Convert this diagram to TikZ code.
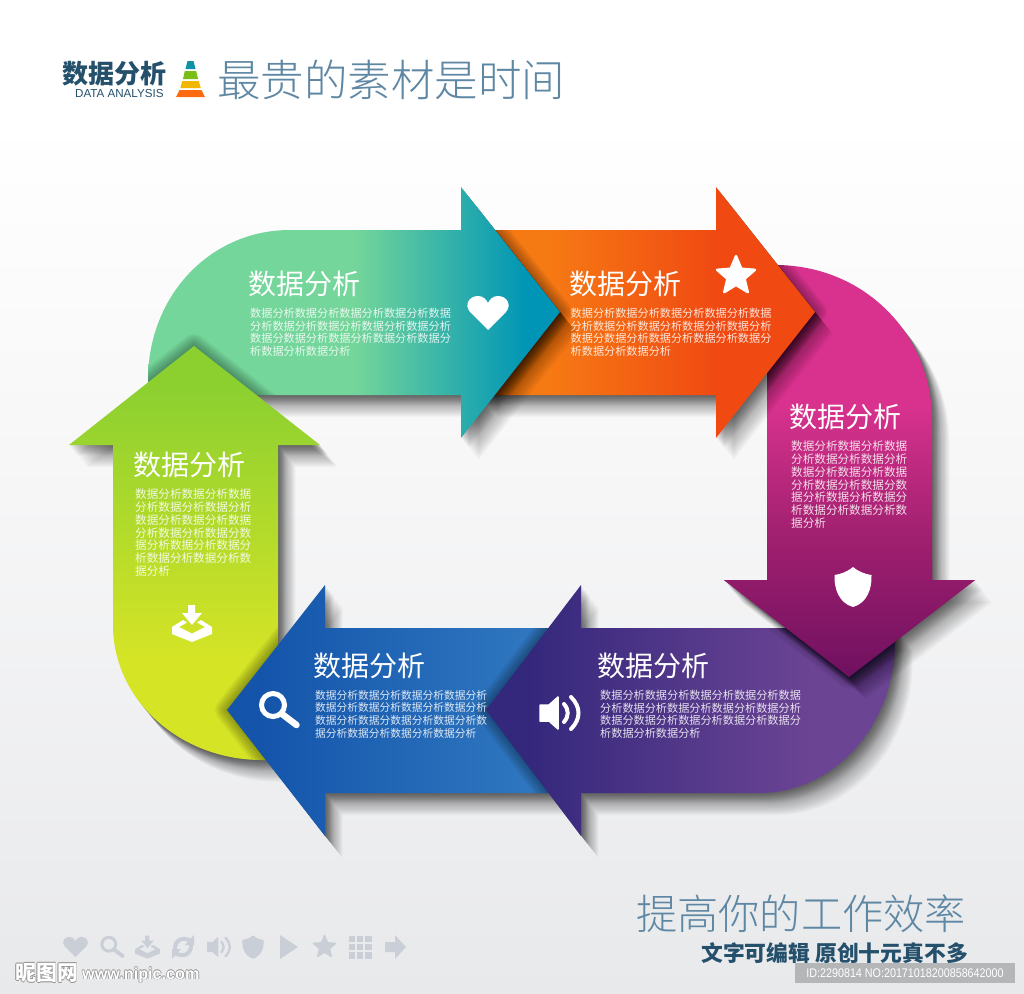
\documentclass[tikz,border=0pt]{standalone}
\usepackage{fontspec}
\usetikzlibrary{calc}
\setmainfont{Liberation Sans}
\newfontfamily\cjk{Noto Sans CJK SC}
\newfontfamily\cjkl{Noto Sans CJK SC Light}
\definecolor{navy}{HTML}{24506C}
\definecolor{titleblue}{HTML}{5E87A3}
\definecolor{icongrey}{HTML}{C9CED7}
\definecolor{tealA}{HTML}{74D69A}\definecolor{tealB}{HTML}{0095B6}
\definecolor{orA}{HTML}{F67A14}\definecolor{orB}{HTML}{F04A12}
\definecolor{magA}{HTML}{D8328E}\definecolor{magB}{HTML}{A0206F}\definecolor{magC}{HTML}{701060}
\definecolor{purA}{HTML}{34287C}\definecolor{purB}{HTML}{6C4494}
\definecolor{bluA}{HTML}{1455AB}\definecolor{bluB}{HTML}{3078C0}
\definecolor{limA}{HTML}{8CD030}\definecolor{limB}{HTML}{D6E426}
\definecolor{bgA}{HTML}{E8E9EB}\definecolor{bgB}{HTML}{F7F7F8}
\definecolor{pyrA}{HTML}{0E93A5}\definecolor{pyrB}{HTML}{78BE14}\definecolor{pyrC}{HTML}{F2B705}\definecolor{pyrD}{HTML}{FB6A0E}
\definecolor{idbox}{HTML}{B5B6B8}
\definecolor{wmgrey}{HTML}{8E8E8E}
\pgfdeclarehorizontalshading{tealS}{100bp}{color(0bp)=(tealA);color(50bp)=(tealA);color(71bp)=(tealB);color(100bp)=(tealB)}
\pgfdeclarehorizontalshading{orS}{100bp}{color(0bp)=(orA);color(35bp)=(orA);color(60bp)=(orB);color(100bp)=(orB)}
\pgfdeclarehorizontalshading{purS}{100bp}{color(0bp)=(purA);color(30bp)=(purA);color(65bp)=(purB);color(100bp)=(purB)}
\pgfdeclarehorizontalshading{bluS}{100bp}{color(0bp)=(bluA);color(30bp)=(bluA);color(72bp)=(bluB);color(100bp)=(bluB)}
\pgfdeclareverticalshading{magS}{100bp}{color(0bp)=(magC);color(25bp)=(magC);color(42bp)=(magB);color(58bp)=(magA);color(100bp)=(magA)}
\pgfdeclareverticalshading{limS}{100bp}{color(0bp)=(limB);color(37bp)=(limB);color(70bp)=(limA);color(100bp)=(limA)}
\pgfdeclareverticalshading{bgS}{100bp}{color(0bp)=(bgA);color(25bp)=(bgA);color(52bp)=(bgB);color(69bp)=(white);color(100bp)=(white)}
\def\pathTeal{(148,395) -- (148,380) .. controls (148,296) and (210,230) .. (290,230) -- (461,230) -- (461,187) -- (560,312) -- (461,438) -- (461,395) -- cycle}
\def\pathOrange{(480,230) -- (716,230) -- (716,187) -- (815,312) -- (716,438) -- (716,395) -- (480,395) -- cycle}
\def\pathMagenta{(767,265) -- (775,265) .. controls (865,265) and (932,335) .. (932,420) -- (932,580) -- (975,580) -- (849,677) -- (724,580) -- (767,580) -- cycle}
\def\pathPurple{(581,628) -- (895,628) -- (895,640) .. controls (895,730) and (830,793) .. (760,793) -- (581,793) -- (581,836) -- (486,710) -- (581,585) -- cycle}
\def\pathBlue{(325,628) -- (560,628) -- (560,793) -- (325,793) -- (325,836) -- (227,710) -- (325,585) -- cycle}
\def\pathLime{(194,346) -- (320,445) -- (278,445) -- (278,760) -- (262,760) .. controls (180,760) and (113,700) .. (113,625) -- (113,445) -- (69,445) -- cycle}
% directional shadow: the shape stacked down and to the right
\newcommand\softshadow[1]{%
  \foreach \k in {1,...,10}{\fill[black,opacity=.05,shift={(.8*\k,\k)}] #1;}%
  \foreach \k in {11,...,22}{\fill[black,opacity=.022,shift={(.8*\k,\k)}] #1;}}
% soft halo of a shape, only on the arrow underneath it
\newcommand\softhalo[2]{\begin{scope}\clip #2;
  \foreach \w in {3,6,...,24}{\draw[black,opacity=.045,line width=\w pt,line join=round] #1;}
\end{scope}}
% icons: x y scale colour
\newcommand\icHeart[4]{\fill[#4,shift={(#1,#2)},scale=#3] (0,17) -- (-18,-1) .. controls (-24,-8) and (-19,-17) .. (-10,-17) .. controls (-5,-17) and (-2,-14) .. (0,-10) .. controls (2,-14) and (5,-17) .. (10,-17) .. controls (19,-17) and (24,-8) .. (18,-1) -- cycle;}
\newcommand\icStar[4]{\filldraw[#4,line join=round,line width=#3*2.4pt,shift={(#1,#2)},scale=#3] (0,-20) -- (5.3,-7.3) -- (19,-6.2) -- (8.6,2.8) -- (11.8,16.2) -- (0,9) -- (-11.8,16.2) -- (-8.6,2.8) -- (-19,-6.2) -- (-5.3,-7.3) -- cycle;}
\newcommand\icShield[4]{\fill[#4,shift={(#1,#2)},scale=#3] (0,-20) .. controls (-6,-15) and (-12,-13) .. (-18.5,-12) .. controls (-19,2) and (-14,16) .. (0,20) .. controls (14,16) and (19,2) .. (18.5,-12) .. controls (12,-13) and (6,-15) .. (0,-20) -- cycle;}
\newcommand\icSpeaker[4]{\begin{scope}[shift={(#1,#2)},scale=#3]
  \filldraw[#4,line join=round,line width=#3*1.5pt] (-19,-8) -- (-10,-8) -- (-1,-16) -- (-1,16) -- (-10,8) -- (-19,8) -- cycle;
  \draw[#4,line width=#3*4pt,line cap=round] (5,-9) .. controls (10,-3) and (10,3) .. (5,9);
  \draw[#4,line width=#3*4pt,line cap=round] (12,-16) .. controls (22,-6) and (22,6) .. (12,16);
\end{scope}}
\newcommand\icSearch[4]{\begin{scope}[shift={(#1,#2)},scale=#3]
  \draw[#4,line width=#3*5pt] (-7,-3) circle (11.5);
  \draw[#4,line width=#3*6.5pt,line cap=round] (2,6) -- (16.5,17);
\end{scope}}
\newcommand\icTray[4]{\begin{scope}[shift={(#1,#2)},scale=#3]
  \fill[#4] (-4,-20) -- (3,-20) -- (3,-12) -- (10,-12) -- (0,0) -- (-10,-12) -- (-4,-12) -- cycle;
  \fill[#4] (-20,2) -- (-9,-5) -- (-5,-2.5) -- (-13,2) -- (0,8.5) -- (13,2) -- (5,-2.5) -- (9,-5) -- (20,2) -- (20,9) -- (0,17) -- (-20,9) -- cycle;
\end{scope}}
\tikzset{
  lbl/.style={inner sep=0pt,anchor=west,text=white},
  para/.style={inner sep=0pt,anchor=north west,align=left,text=white,text opacity=.85},
  wm/.style={inner sep=0pt,anchor=west},
}
\newcommand\headfont{\cjk\fontsize{28}{28}\selectfont}
\newcommand\bodyA{\cjk\fontsize{11.15}{12.7}\selectfont}
\newcommand\bodyB{\cjk\fontsize{11.6}{12.7}\selectfont}
\newcommand\bodyC{\cjk\fontsize{10.75}{12.7}\selectfont}
\newcommand\longtext{数据分析数据分析数据分析数据分析数据\\分析数据分析数据分析数据分析数据分析\\数据分数据分析数据分析数据分析数据分\\析数据分析数据分析}
\newcommand\talltext{数据分析数据分析数据\\分析数据分析数据分析\\数据分析数据分析数据\\分析数据分析数据分数\\据分析数据分析数据分\\析数据分析数据分析数\\据分析}
\begin{document}
\begin{tikzpicture}[x=1pt,y=-1pt]
\useasboundingbox (0,0) rectangle (1024,993);
\shade[shading=bgS] (0,0) rectangle (1024,993);
% logo
\node[inner sep=0pt,anchor=west,text=navy,font=\cjk\bfseries\fontsize{26}{26}\selectfont] (logoCn) at (62,74) {数据分析};
\node[inner sep=0pt,anchor=west,text=navy,font=\fontsize{11.6}{12}\selectfont] (logoEn) at (75,93.5) {DATA ANALYSIS};
\fill[pyrA] (187.5,61) -- (193.5,61) -- (195.5,69) -- (185.5,69) -- cycle;
\fill[pyrB] (184.8,71) -- (196.2,71) -- (198,79) -- (183,79) -- cycle;
\fill[pyrC] (182.3,81) -- (198.7,81) -- (200.8,88) -- (180.3,88) -- cycle;
\fill[pyrD] (179.6,90) -- (201.4,90) -- (205,97) -- (176,97) -- cycle;
\node[inner sep=0pt,anchor=west,text=titleblue,font=\cjkl\fontsize{43.5}{44}\selectfont] (title) at (217,80) {最贵的素材是时间};
% magenta first: its lower part is drawn again over the purple arrow
\softshadow{\pathMagenta}
\shade[shading=magS] \pathMagenta;
% orange
\softshadow{\pathOrange}
\softhalo{\pathOrange}{\pathMagenta}
\shade[shading=orS] \pathOrange;
% teal
\softshadow{\pathTeal}
\softhalo{\pathTeal}{\pathOrange}
\shade[shading=tealS] \pathTeal;
% lime
\softshadow{\pathLime}
\softhalo{\pathLime}{\pathTeal}
\shade[shading=limS] \pathLime;
% blue
\softshadow{\pathBlue}
\softhalo{\pathBlue}{\pathLime}
\shade[shading=bluS] \pathBlue;
% purple
\softshadow{\pathPurple}
\softhalo{\pathPurple}{\pathBlue}
\shade[shading=purS] \pathPurple;
% magenta, lower part over the purple arrow
\begin{scope}
  \clip \pathPurple;
  \softshadow{\pathMagenta}
  \foreach \w in {3,6,...,24}{\draw[black,opacity=.03,line width=\w pt,line join=round] \pathMagenta;}
\end{scope}
\begin{scope}
  \clip (0,560) rectangle (1024,993);
  \shade[shading=magS] \pathMagenta;
\end{scope}
% texts
\node[lbl,font=\headfont] (h1) at (248.5,284) {数据分析};
\node[para,font=\bodyA] (b1) at (250,308) {\longtext};
\node[lbl,font=\headfont] (h2) at (569.5,284) {数据分析};
\node[para,font=\bodyA] (b2) at (570.5,308) {\longtext};
\node[lbl,font=\headfont] (h3) at (789.5,417) {数据分析};
\node[para,font=\bodyB] (b3) at (791,441) {\talltext};
\node[lbl,font=\headfont] (h4) at (133.5,465) {数据分析};
\node[para,font=\bodyB] (b4) at (135,489) {\talltext};
\node[lbl,font=\headfont] (h5) at (313.5,666) {数据分析};
\node[para,font=\bodyC] (b5) at (315,690) {数据分析数据分析数据分析数据分析\\数据分析数据分析数据分析数据分析\\数据分析数据分数据分析数据分析数\\据分析数据分析数据分析数据分析};
\node[lbl,font=\headfont] (h6) at (597.5,666) {数据分析};
\node[para,font=\bodyA] (b6) at (600,690) {\longtext};
% icons on arrows
\icHeart{488}{313}{1}{white}
\icStar{736}{276}{1}{white}
\icShield{853}{587}{1}{white}
\icSpeaker{559}{713}{1}{white}
\icSearch{280}{708}{1}{white}
\icTray{192}{625}{1}{white}
% footer
\node[inner sep=0pt,anchor=east,text=titleblue,font=\cjkl\fontsize{41.2}{42}\selectfont] (slogan) at (966,914) {提高你的工作效率};
\node[inner sep=0pt,anchor=east,text=navy,font=\cjk\bfseries\fontsize{21.8}{23}\selectfont] (sub) at (968,953) {文字可编辑 原创十元真不多};
% small icon row
\icHeart{75.5}{947}{.6}{icongrey}
\icSearch{113}{946}{.6}{icongrey}
\icTray{147.5}{948}{.62}{icongrey}
\begin{scope}[shift={(183,947)}]
  \draw[icongrey,line width=4pt] (-8,3) .. controls (-9,-7) and (0,-11) .. (8,-6);
  \fill[icongrey] (11,-12) -- (11,-2) -- (2,-2) -- cycle;
  \draw[icongrey,line width=4pt] (8,-3) .. controls (9,7) and (0,11) .. (-8,6);
  \fill[icongrey] (-11,12) -- (-11,2) -- (-2,2) -- cycle;
\end{scope}
\icSpeaker{218.5}{947}{.58}{icongrey}
\icShield{253}{947}{.58}{icongrey}
\fill[icongrey] (280,935) -- (298,947) -- (280,959) -- cycle;
\icStar{324.5}{947}{.58}{icongrey}
\foreach \i in {0,1,2}{\foreach \j in {0,1,2}{\fill[icongrey] ($(348.5,935.5)+(8.3*\i,8.3*\j)$) rectangle ++(6.6,6.6);}}
\fill[icongrey] (385,942) -- (395,942) -- (395,935) -- (406,947) -- (395,959) -- (395,952) -- (385,952) -- cycle;
% watermark
\foreach \dx/\dy in {-.7/0,.7/0,0/-.7,0/.7}{
  \node[wm,text=wmgrey,font=\cjk\bfseries\fontsize{21}{22}\selectfont] at (15+\dx,973+\dy) {昵图网};
  \node[wm,text=wmgrey,font=\bfseries\fontsize{16.2}{17}\selectfont] at (82+\dx,975+\dy) {www.nipic.com};
}
\node[wm,text=white,font=\cjk\bfseries\fontsize{21}{22}\selectfont] (wmCn) at (15,973) {昵图网};
\node[wm,text=white,font=\bfseries\fontsize{16.2}{17}\selectfont] (wmEn) at (82,975) {www.nipic.com};
% id box
\fill[idbox] (795,963) rectangle (1015,983);
\node[inner sep=0pt,text=white,xscale=.86,font=\fontsize{12.5}{13}\selectfont] (idt) at (905,973.5) {ID:2290814 NO:20171018200858642000};
\end{tikzpicture}
\end{document}
